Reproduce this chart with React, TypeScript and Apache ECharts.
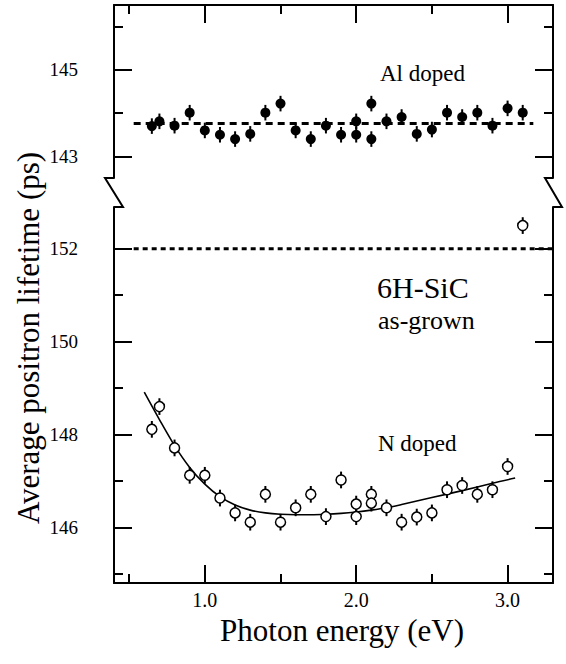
import React, { useEffect, useRef } from "react";
import * as echarts from "echarts";

// Al doped (upper panel)
const alX = [0.65, 0.7, 0.8, 0.9, 1.0, 1.1, 1.2, 1.3, 1.4, 1.5, 1.6, 1.7, 1.8, 1.9, 2.0, 2.0, 2.1, 2.1, 2.2, 2.3, 2.4, 2.5, 2.6, 2.7, 2.8, 2.9, 3.0, 3.1];
const alY = [143.70, 143.81, 143.71, 144.01, 143.60, 143.50, 143.40, 143.52, 144.01, 144.22, 143.60, 143.40, 143.71, 143.50, 143.81, 143.50, 144.22, 143.40, 143.81, 143.91, 143.52, 143.62, 144.01, 143.91, 144.01, 143.71, 144.11, 144.01];
const alErr = [0.18, 0.18, 0.18, 0.18, 0.18, 0.18, 0.18, 0.18, 0.18, 0.18, 0.18, 0.18, 0.18, 0.18, 0.18, 0.18, 0.18, 0.18, 0.18, 0.18, 0.18, 0.18, 0.18, 0.18, 0.18, 0.18, 0.18, 0.18];
const alMeanX = [0.53, 3.17];
const alMeanY = [143.76, 143.76];

// N doped (lower panel)
const nX = [0.65, 0.7, 0.8, 0.9, 1.0, 1.1, 1.2, 1.3, 1.4, 1.5, 1.6, 1.7, 1.8, 1.9, 2.0, 2.0, 2.1, 2.1, 2.2, 2.3, 2.4, 2.5, 2.6, 2.7, 2.8, 2.9, 3.0];
const nY = [148.11, 148.60, 147.71, 147.12, 147.12, 146.63, 146.31, 146.11, 146.71, 146.11, 146.42, 146.71, 146.23, 147.02, 146.50, 146.23, 146.71, 146.52, 146.42, 146.11, 146.22, 146.31, 146.81, 146.90, 146.71, 146.81, 147.31];
const nErr = [0.18, 0.18, 0.18, 0.18, 0.18, 0.18, 0.18, 0.18, 0.18, 0.18, 0.18, 0.18, 0.18, 0.18, 0.18, 0.18, 0.18, 0.18, 0.18, 0.18, 0.18, 0.18, 0.18, 0.18, 0.18, 0.18, 0.18];
const fitX = [0.6, 0.7, 0.8, 0.9, 1.0, 1.1, 1.2, 1.3, 1.4, 1.5, 1.6, 1.7, 1.8, 1.9, 2.0, 2.1, 2.2, 2.3, 2.5, 2.7, 2.9, 3.05];
const fitY = [148.91, 148.32, 147.76, 147.29, 146.93, 146.66, 146.48, 146.37, 146.31, 146.28, 146.27, 146.27, 146.28, 146.30, 146.33, 146.37, 146.42, 146.49, 146.64, 146.79, 146.95, 147.06];

// As-grown
const agX = [3.1];
const agY = [152.5];
const agErr = [0.18];
const agRefX = [0.53, 3.3];
const agRefY = [152.0, 152.0];

// Axes
const xMajor = [1.0, 2.0, 3.0];
const xMinor = [0.5, 1.5, 2.5];
const yUpMajor = [143, 145];
const yUpMinor = [144, 146];
const yLoMajor = [146, 148, 150, 152];
const yLoMinor = [145, 147, 149, 151];

const FONT = "Liberation Serif";

const zip = (a: number[], b: number[]) => a.map((v, i) => [v, b[i]]);
const zip3 = (a: number[], b: number[], c: number[]) => a.map((v, i) => [v, b[i], c[i]]);

const errRender = (params: any, api: any) => {
  const x = api.value(0);
  const y = api.value(1);
  const e = api.value(2);
  const p1 = api.coord([x, y - e]);
  const p2 = api.coord([x, y + e]);
  return {
    type: "line",
    shape: { x1: p1[0], y1: p1[1], x2: p2[0], y2: p2[1] },
    style: { stroke: "#000", lineWidth: 2 },
  };
};

function xAxisDef(gridIndex: number, position: string, ticks: number[], len: number, showLine: boolean, labels: boolean, name?: string) {
  return {
    type: "value",
    gridIndex,
    position,
    min: 0.4,
    max: 3.3,
    name: name || "",
    nameLocation: "middle",
    nameGap: 20,
    nameTextStyle: { fontFamily: FONT, fontSize: 31, color: "#000", verticalAlign: "top", padding: [0, 0, 0, 17] },
    axisLine: { show: showLine, onZero: false, lineStyle: { color: "#000", width: 2 } },
    axisTick: { show: true, inside: true, length: len, customValues: ticks, lineStyle: { color: "#000", width: 2 } },
    axisLabel: {
      show: labels,
      customValues: xMajor,
      margin: 7,
      fontFamily: FONT,
      fontSize: 20,
      color: "#000",
      formatter: (v: number) => v.toFixed(1),
    },
    splitLine: { show: false },
  };
}

function yAxisDef(gridIndex: number, position: string, min: number, max: number, ticks: number[], len: number, showLine: boolean, labels: boolean) {
  return {
    type: "value",
    gridIndex,
    position,
    min,
    max,
    axisLine: { show: showLine, onZero: false, lineStyle: { color: "#000", width: 2 } },
    axisTick: { show: true, inside: true, length: len, customValues: ticks, lineStyle: { color: "#000", width: 2 } },
    axisLabel: {
      show: labels,
      customValues: ticks,
      margin: 36,
      fontFamily: FONT,
      fontSize: 19,
      color: "#000",
    },
    splitLine: { show: false },
  };
}

function label(text: string, x: number, y: number, size: number, extra: any = {}) {
  return {
    type: "text",
    x,
    y,
    ...extra,
    style: { text, fontFamily: FONT, fontSize: size, fill: "#000", verticalAlign: "middle", ...(extra.style || {}) },
  };
}

export default function App() {
  const ref = useRef<HTMLDivElement>(null);
  useEffect(() => {
    if (!ref.current) return;
    document.body.style.margin = "0";
    const chart = echarts.init(ref.current, undefined, { renderer: "svg" });
    const option = {
      animation: false,
      grid: [
        { left: 114, top: 5, width: 439, height: 173 },
        { left: 114, top: 207, width: 439, height: 376 },
      ],
      xAxis: [
        xAxisDef(0, "top", xMajor, 18, true, false),
        xAxisDef(0, "top", xMinor, 9, false, false),
        xAxisDef(1, "bottom", xMajor, 18, true, true, "Photon energy (eV)"),
        xAxisDef(1, "bottom", xMinor, 9, false, false),
      ],
      yAxis: [
        yAxisDef(0, "left", 142.5, 146.5, yUpMajor, 18, true, true),
        yAxisDef(0, "left", 142.5, 146.5, yUpMinor, 9, false, false),
        yAxisDef(0, "right", 142.5, 146.5, yUpMajor, 18, true, false),
        yAxisDef(0, "right", 142.5, 146.5, yUpMinor, 9, false, false),
        yAxisDef(1, "left", 144.8, 152.9, yLoMajor, 18, true, true),
        yAxisDef(1, "left", 144.8, 152.9, yLoMinor, 9, false, false),
        yAxisDef(1, "right", 144.8, 152.9, yLoMajor, 18, true, false),
        yAxisDef(1, "right", 144.8, 152.9, yLoMinor, 9, false, false),
      ],
      series: [
        {
          type: "line",
          name: "Al mean",
          xAxisIndex: 0,
          yAxisIndex: 0,
          data: zip(alMeanX, alMeanY),
          symbol: "none",
          lineStyle: { color: "#000", width: 3, type: [7, 5] },
          z: 1,
        },
        {
          type: "custom",
          name: "Al err",
          xAxisIndex: 0,
          yAxisIndex: 0,
          renderItem: errRender,
          encode: { x: 0, y: 1 },
          data: zip3(alX, alY, alErr),
          z: 2,
        },
        {
          type: "scatter",
          name: "Al doped",
          xAxisIndex: 0,
          yAxisIndex: 0,
          data: zip(alX, alY),
          symbol: "circle",
          symbolSize: 10,
          itemStyle: { color: "#000", opacity: 1 },
          z: 3,
        },
        {
          type: "line",
          name: "as-grown ref",
          xAxisIndex: 2,
          yAxisIndex: 4,
          data: zip(agRefX, agRefY),
          symbol: "none",
          lineStyle: { color: "#000", width: 3, type: [5, 4] },
          z: 1,
        },
        {
          type: "line",
          name: "fit",
          xAxisIndex: 2,
          yAxisIndex: 4,
          data: zip(fitX, fitY),
          symbol: "none",
          smooth: 0.3,
          lineStyle: { color: "#000", width: 1.6 },
          z: 1,
        },
        {
          type: "custom",
          name: "N err",
          xAxisIndex: 2,
          yAxisIndex: 4,
          renderItem: errRender,
          encode: { x: 0, y: 1 },
          data: zip3(nX.concat(agX), nY.concat(agY), nErr.concat(agErr)),
          z: 2,
        },
        {
          type: "scatter",
          name: "N doped",
          xAxisIndex: 2,
          yAxisIndex: 4,
          data: zip(nX.concat(agX), nY.concat(agY)),
          symbol: "circle",
          symbolSize: 10,
          itemStyle: { color: "#fff", borderColor: "#000", borderWidth: 1.5, opacity: 1 },
          z: 3,
        },
      ],
      graphic: [
        {
          type: "polyline",
          shape: { points: [[114, 178], [105, 178], [123, 207], [114, 207]] },
          style: { stroke: "#000", lineWidth: 2, fill: "none" },
        },
        {
          type: "polyline",
          shape: { points: [[553, 178], [545, 178], [562, 207], [553, 207]] },
          style: { stroke: "#000", lineWidth: 2, fill: "none" },
        },
        label("Al doped", 380, 73, 23),
        label("6H-SiC", 377, 287, 30),
        label("as-grown", 378, 320, 26),
        label("N doped", 378, 443, 23),
        label("Average positron lifetime (ps)", 28, 338, 31, {
          rotation: Math.PI / 2,
          style: { align: "center" },
        }),
      ],
    };
    chart.setOption(option as any);
    return () => chart.dispose();
  }, []);
  return <div ref={ref} style={{ width: 566, height: 664, background: "#fff" }} />;
}
